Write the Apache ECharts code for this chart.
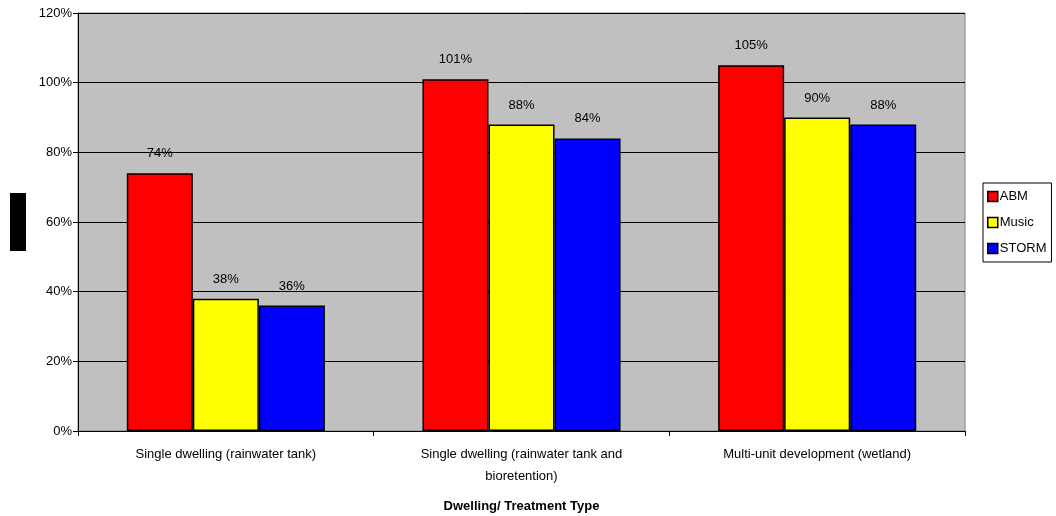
<!DOCTYPE html>
<html><head><meta charset="utf-8">
<script src="https://cdn.jsdelivr.net/npm/echarts@6/dist/echarts.min.js"></script>
<style>html,body{margin:0;padding:0;background:#fff}#c{width:1056px;height:516px}</style>
</head><body><div id="c"></div>
<script>
const categories = ['Single dwelling (rainwater tank)', 'Single dwelling (rainwater tank and\nbioretention)', 'Multi-unit development (wetland)'];
const abm = [74, 101, 105];
const music = [38, 88, 90];
const storm = [36, 84, 88];
const yTicks = [0, 20, 40, 60, 80, 100, 120];

const chart = echarts.init(document.getElementById('c'), null, {renderer: 'canvas'});
const font = 'Liberation Sans, Arial, sans-serif';
function ser(name, data, color) {
  return {
    name, type: 'bar', data, barGap: '0%', barCategoryGap: '33%',
    itemStyle: {color, borderColor: '#000', borderWidth: 1.5},
    label: {show: true, position: 'top', distance: 13, formatter: '{c}%', color: '#000', fontFamily: font, fontSize: 13}
  };
}
chart.setOption({
  animation: false,
  grid: {left: 78, right: 91, top: 13, bottom: 85, show: true, backgroundColor: '#C0C0C0', borderColor: '#808080', borderWidth: 1, containLabel: false, outerBoundsMode: 'none'},
  legend: {
    orient: 'vertical', left: 983, top: 183, itemWidth: 10, itemHeight: 10, itemGap: 13,
    padding: [7, 5, 7, 4], borderColor: '#000', borderWidth: 1, backgroundColor: '#fff',
    textStyle: {fontFamily: font, fontSize: 13, color: '#000', padding: [0, 0, 0, -3]},
    icon: 'rect',
    data: [
      {name: 'ABM', itemStyle: {borderColor: '#000', borderWidth: 1.5}},
      {name: 'Music', itemStyle: {borderColor: '#000', borderWidth: 1.5}},
      {name: 'STORM', itemStyle: {borderColor: '#000', borderWidth: 1.5}}
    ]
  },
  xAxis: {
    type: 'category', data: categories,
    name: 'Dwelling/ Treatment Type', nameLocation: 'middle', nameGap: 69,
    nameTextStyle: {fontFamily: font, fontSize: 13, fontWeight: 'bold', color: '#000'},
    axisLine: {lineStyle: {color: '#000', width: 1}},
    axisTick: {show: true, alignWithLabel: false, length: 5, lineStyle: {color: '#000'}},
    axisLabel: {fontFamily: font, fontSize: 13, color: '#000', margin: 12, lineHeight: 22, interval: 0}
  },
  yAxis: {
    type: 'value', min: 0, max: 120, interval: 20,
    axisLine: {show: true, lineStyle: {color: '#000', width: 1}},
    axisTick: {show: true, length: 5, lineStyle: {color: '#000'}},
    axisLabel: {fontFamily: font, fontSize: 13, color: '#000', margin: 6, formatter: v => yTicks.includes(v) ? v + '%' : ''},
    splitLine: {show: true, lineStyle: {color: '#000', width: 1}}
  },
  graphic: [{type: 'rect', shape: {x: 10, y: 193, width: 16, height: 58}, style: {fill: '#000'}}],
  series: [ser('ABM', abm, '#FF0000'), ser('Music', music, '#FFFF00'), ser('STORM', storm, '#0000FF')]
});
</script></body></html>
